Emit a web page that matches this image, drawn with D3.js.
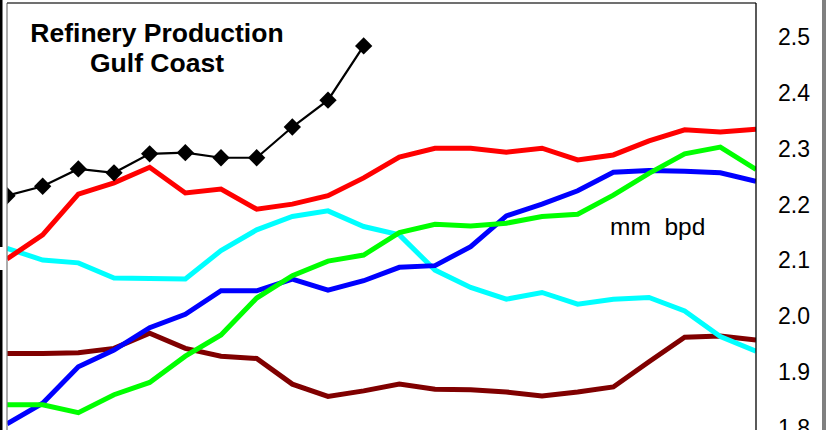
<!DOCTYPE html>
<html>
<head>
<meta charset="utf-8">
<script src="https://cdn.jsdelivr.net/npm/d3@7"></script>
<style>
  html, body { margin: 0; padding: 0; background: #fff; }
  svg { display: block; }
</style>
</head>
<body>
<svg id="chart" width="826" height="430"></svg>
<script>
// ---- data ----
const periods = ["P1","P2","P3","P4","P5","P6","P7","P8","P9","P10","P11",
                 "P12","P13","P14","P15","P16","P17","P18","P19","P20","P21","P22"];

const blackSeries = [2.216, 2.233, 2.264, 2.257, 2.291, 2.293, 2.284, 2.284, 2.339, 2.387, 2.484];

const redSeries = [2.103, 2.146, 2.219, 2.239, 2.267, 2.221, 2.228, 2.192, 2.201, 2.216, 2.248,
                   2.285, 2.301, 2.301, 2.294, 2.301, 2.280, 2.289, 2.314, 2.334, 2.330, 2.335];

const cyanSeries = [2.122, 2.101, 2.096, 2.069, 2.068, 2.067, 2.118, 2.155, 2.179, 2.189, 2.161,
                    2.146, 2.083, 2.052, 2.031, 2.043, 2.022, 2.031, 2.034, 2.010, 1.964, 1.938];

const blueSeries = [1.808, 1.845, 1.910, 1.940, 1.980, 2.004, 2.046, 2.046, 2.067, 2.047, 2.064,
                    2.088, 2.091, 2.125, 2.180, 2.201, 2.225, 2.258, 2.261, 2.260, 2.257, 2.242];

const greenSeries = [1.842, 1.842, 1.828, 1.860, 1.882, 1.929, 1.967, 2.033, 2.073, 2.099, 2.110,
                     2.150, 2.165, 2.162, 2.167, 2.179, 2.183, 2.217, 2.256, 2.291, 2.303, 2.263];

const maroonSeries = [1.934, 1.934, 1.935, 1.943, 1.970, 1.943, 1.929, 1.925, 1.879, 1.857, 1.867,
                      1.879, 1.870, 1.869, 1.865, 1.858, 1.865, 1.874, 1.919, 1.963, 1.965, 1.958];

const yTicks = [1.8, 1.9, 2.0, 2.1, 2.2, 2.3, 2.4, 2.5];
const titleLines = ["Refinery Production", "Gulf Coast"];
const unitLabel = "mm  bpd";

// ---- layout ----
const svg = d3.select("#chart");
const plot = { left: 7, right: 756, top: 3, bottom: 440 };

const x = d3.scalePoint().domain(periods).range([plot.left, plot.right]);
const y = d3.scaleLinear().domain([1.8, 2.5]).range([428.3, 37]);

// side artifacts of the slide
svg.append("rect").attr("x", 0).attr("y", 0).attr("width", 2.5).attr("height", 247).attr("fill", "#000");
svg.append("rect").attr("x", 0).attr("y", 270).attr("width", 2.5).attr("height", 160).attr("fill", "#000");
svg.append("rect").attr("x", 822).attr("y", 0).attr("width", 4).attr("height", 430).attr("fill", "#808080");

// plot area
svg.append("rect")
  .attr("x", plot.left).attr("y", plot.top)
  .attr("width", plot.right - plot.left).attr("height", plot.bottom - plot.top)
  .attr("fill", "#fff");

svg.append("defs").append("clipPath").attr("id", "clip")
  .append("rect")
  .attr("x", plot.left).attr("y", plot.top)
  .attr("width", plot.right - plot.left).attr("height", plot.bottom - plot.top);

const g = svg.append("g").attr("clip-path", "url(#clip)");

const line = d3.line()
  .x((d, i) => x(periods[i]))
  .y(d => y(d));

const colored = [
  { data: maroonSeries, color: "#800000" },
  { data: cyanSeries,   color: "#00ffff" },
  { data: blueSeries,   color: "#0000ff" },
  { data: greenSeries,  color: "#00ff00" },
  { data: redSeries,    color: "#ff0000" }
];

colored.forEach(s => {
  g.append("path")
    .datum(s.data)
    .attr("d", line)
    .attr("fill", "none")
    .attr("stroke", s.color)
    .attr("stroke-width", 5)
    .attr("stroke-linejoin", "miter");
});

// black marker series
g.append("path")
  .datum(blackSeries)
  .attr("d", line)
  .attr("fill", "none")
  .attr("stroke", "#000")
  .attr("stroke-width", 2.2);

const diamond = d3.symbol().type(d3.symbolSquare).size(150);
g.selectAll("path.mk")
  .data(blackSeries)
  .enter().append("path")
  .attr("class", "mk")
  .attr("d", diamond)
  .attr("transform", (d, i) => `translate(${x(periods[i])},${y(d)}) rotate(45)`)
  .attr("fill", "#000");

// borders
svg.append("line").attr("x1", plot.left).attr("x2", plot.left).attr("y1", plot.top).attr("y2", 430)
  .attr("stroke", "#808080").attr("stroke-width", 1.3);
svg.append("line").attr("x1", plot.left).attr("x2", plot.right).attr("y1", plot.top).attr("y2", plot.top)
  .attr("stroke", "#404040").attr("stroke-width", 1.5);
svg.append("line").attr("x1", plot.right).attr("x2", plot.right).attr("y1", plot.top).attr("y2", 430)
  .attr("stroke", "#000").attr("stroke-width", 1.3);

// right axis
const axis = d3.axisRight(y)
  .tickValues(yTicks)
  .tickSize(0)
  .tickPadding(22)
  .tickFormat(d3.format(".1f"));

const ax = svg.append("g")
  .attr("transform", `translate(${plot.right},0)`)
  .call(axis);
ax.select(".domain").remove();
ax.selectAll("text")
  .attr("font-family", "Arial, 'Liberation Sans', sans-serif")
  .attr("font-size", 23)
  .attr("fill", "#000");

// title
const title = svg.append("text")
  .attr("x", 157)
  .attr("text-anchor", "middle")
  .attr("font-family", "Arial, 'Liberation Sans', sans-serif")
  .attr("font-weight", "bold")
  .attr("font-size", 26.5)
  .attr("fill", "#000");
title.selectAll("tspan").data(titleLines).enter().append("tspan")
  .attr("x", 157)
  .attr("y", (d, i) => 42 + i * 30)
  .text(d => d);

// unit label
svg.append("text")
  .attr("x", 610)
  .attr("y", 235)
  .attr("font-family", "Arial, 'Liberation Sans', sans-serif")
  .attr("font-size", 24.5)
  .attr("fill", "#000")
  .style("white-space", "pre")
  .text(unitLabel);
</script>
</body>
</html>
